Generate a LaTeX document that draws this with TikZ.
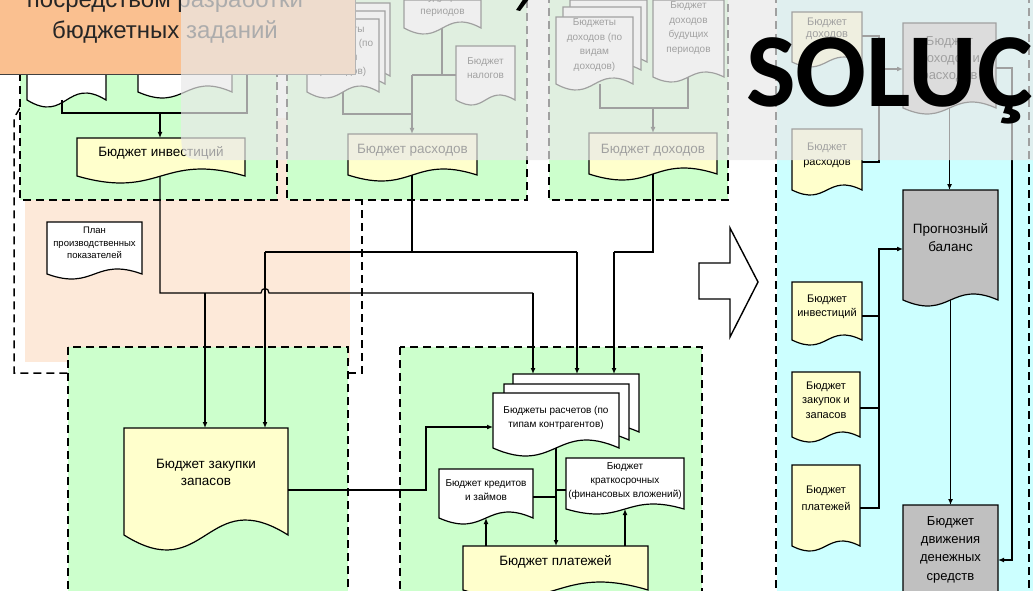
\documentclass[tikz,border=0pt]{standalone}
\usepackage{fontspec}
\setmainfont{Liberation Sans}
\newfontfamily\solfont{Carlito}
\usetikzlibrary{arrows.meta}

\definecolor{pgreen}{HTML}{CCFFCC}
\definecolor{pyellow}{HTML}{FFFFCC}
\definecolor{ppeach}{HTML}{FDE9D9}
\definecolor{pcyan}{HTML}{CCFFFF}
\definecolor{pgray}{HTML}{C0C0C0}
\definecolor{porange}{HTML}{FAC090}
\definecolor{povl}{RGB}{233,233,233}

\tikzset{
  docline/.style={draw=black, line width=1.2pt},
  conn/.style={draw=black, line width=1.2pt},
  arr/.style={conn, -{Latex[length=6pt,width=5pt]}},
  panel/.style={draw=black, line width=1.5pt, dash pattern=on 8pt off 5pt},
}

\newcommand{\docfnt}{\fontsize{13.5}{17}\selectfont}
\newcommand{\DocShape}[9]{%
  \draw[docline, fill=#7] (#2,#3) -- (#4,#3) -- (#4,#5) .. controls ({(#2+#4)/2},{#5-3.46*#6}) and ({(#2+#4)/2},{#5+3.46*#6}) .. (#2,#5) -- cycle;
  \node[inner sep=0pt, outer sep=0pt, minimum width={(#4-#2)*1pt}, minimum height={(#5-#3)*1pt}] (#1) at ({(#2+#4)/2},{(#3+#5)/2}) {};
  \node[align=center, inner sep=0pt, font=\docfnt] (#1-t) at ({(#2+#4)/2},#8) {#9};
}

\begin{document}
\begin{tikzpicture}[x=1pt,y=-1pt]
\useasboundingbox (0,0) rectangle (1033,591);
\clip (0,0) rectangle (1033,591);
\fill[white] (0,0) rectangle (1033,591);

% peach area and outer boundary
\fill[ppeach] (25,118) rectangle (350,362);
\draw[panel] (20,108) -- (14,118) -- (14,373) -- (68,373);
\draw[panel] (348,373) -- (362,373) -- (362,200);

% panels
\draw[panel, fill=pgreen] (20,-5) rectangle (277,200);
\draw[panel, fill=pgreen] (287,-5) rectangle (527,200);
\draw[panel, fill=pgreen] (549,-5) rectangle (728,200);
\draw[panel, fill=pgreen] (68,347) rectangle (348,600);
\draw[panel, fill=pgreen] (400,347) rectangle (702,600);
\fill[pcyan] (777,-5) rectangle (1040,600);
\draw[panel] (776,-5) -- (776,600);
\draw[panel] (1029,-5) -- (1029,600);

% ---- top-left panel
\renewcommand{\docfnt}{\fontsize{10}{14}\selectfont}
\DocShape{docA}{27}{2}{106}{100}{7}{white}{60}{}
\DocShape{docB}{138}{2}{232}{92}{6}{white}{55}{}
\renewcommand{\docfnt}{\fontsize{13.5}{17}\selectfont}
\DocShape{inv}{77}{138}{245}{176}{7}{pyellow}{153}{Бюджет инвестиций}

% ---- top-middle panel
\renewcommand{\docfnt}{\fontsize{10}{14}\selectfont}
\DocShape{srB}{319}{3}{390}{76}{6}{white}{40}{}
\DocShape{srM}{313}{11}{385}{84}{6}{white}{45}{}
\DocShape{srF}{307}{19}{379}{92}{6}{white}{51}{Бюджеты\\расходов (по\\видам\\расходов)}
\DocShape{bp}{404}{0}{481}{28}{6}{white}{-9}{Бюджет\\расходов\\будущих\\периодов}
\DocShape{nal}{456}{46}{515}{100}{5}{white}{68.5}{Бюджет\\налогов}
\renewcommand{\docfnt}{\fontsize{13.5}{17}\selectfont}
\DocShape{ras}{348}{134}{477}{175}{6}{pyellow}{150}{Бюджет расходов}

% ---- top-right panel
\renewcommand{\docfnt}{\fontsize{10}{14.5}\selectfont}
\DocShape{sdB}{570}{0}{647}{62}{6}{white}{30}{}
\DocShape{sdM}{563}{7}{641}{70}{6}{white}{35}{}
\DocShape{sdF}{556}{17}{633}{84}{6}{white}{45}{Бюджеты\\доходов (по\\видам\\доходов)}
\DocShape{bud}{653}{0}{724}{77}{5}{white}{28}{Бюджет\\доходов\\будущих\\периодов}
\renewcommand{\docfnt}{\fontsize{13.5}{17}\selectfont}
\DocShape{doh}{589}{133}{717}{174}{6}{pyellow}{150}{Бюджет доходов}

% ---- peach area
\renewcommand{\docfnt}{\fontsize{9.5}{12.5}\selectfont}
\DocShape{plan}{47}{222}{142}{274}{5}{white}{243}{План\\производственных\\показателей}

% ---- bottom-left panel
\renewcommand{\docfnt}{\fontsize{13.5}{17}\selectfont}
\DocShape{zak}{124}{428}{288}{535}{15}{pyellow}{472}{Бюджет закупки\\запасов}

% ---- bottom-middle panel
\renewcommand{\docfnt}{\fontsize{10}{13.5}\selectfont}
\DocShape{rasB}{513}{374}{639}{432}{8}{white}{400}{}
\DocShape{rasM}{504}{384}{629}{440}{8}{white}{410}{}
\DocShape{rasF}{493}{393}{619}{448}{8}{white}{418}{Бюджеты расчетов (по\\типам контрагентов)}
\renewcommand{\docfnt}{\fontsize{10}{14}\selectfont}
\DocShape{kred}{439}{469}{533}{518}{6}{white}{490}{Бюджет кредитов\\и займов}
\DocShape{fin}{566}{458}{684}{509}{5}{white}{481}{Бюджет\\краткосрочных\\(финансовых вложений)}
\renewcommand{\docfnt}{\fontsize{13.5}{17}\selectfont}
\DocShape{plat}{463}{546}{648}{590}{8}{pyellow}{562}{Бюджет платежей}

% ---- right panel
\renewcommand{\docfnt}{\fontsize{11}{12.5}\selectfont}
\DocShape{rdoh}{792}{12}{862}{62}{5}{pyellow}{29}{Бюджет\\доходов}
\renewcommand{\docfnt}{\fontsize{11}{15}\selectfont}
\DocShape{rras}{792}{129}{862}{190}{5}{pyellow}{155}{Бюджет\\расходов}
\renewcommand{\docfnt}{\fontsize{11}{14}\selectfont}
\DocShape{rinv}{792}{282}{862}{340}{5}{pyellow}{307}{Бюджет\\инвестиций}
\renewcommand{\docfnt}{\fontsize{11}{14.5}\selectfont}
\DocShape{rzak}{792}{372}{860}{437}{5}{pyellow}{400}{Бюджет\\закупок и\\запасов}
\renewcommand{\docfnt}{\fontsize{11}{17}\selectfont}
\DocShape{rpl}{792}{465}{860}{546}{5}{pyellow}{498}{Бюджет\\платежей}
\renewcommand{\docfnt}{\fontsize{13}{17}\selectfont}
\DocShape{bdr}{903}{23}{996}{108}{6}{pgray}{59}{Бюджет\\доходов и\\расходов}
\renewcommand{\docfnt}{\fontsize{13.5}{18}\selectfont}
\DocShape{prog}{903}{190}{998}{300}{6}{pgray}{238}{Прогнозный\\баланс}
\renewcommand{\docfnt}{\fontsize{13}{18.3}\selectfont}
\DocShape{bdds}{903}{505}{998}{640}{6}{pgray}{549.5}{Бюджет\\движения\\денежных\\средств}

% ---- connectors: top-left
\coordinate (a1) at (62,113);
\coordinate (a2) at (247,113);
\coordinate (a3) at (160,113);
\coordinate (a4) at (247,70);
\draw[conn] (docA.south -| a1) -- (a1) -- (a2) -- (a4);
\draw[arr] (a3) -- (a3 |- inv.north);
\coordinate (b1) at (160,293);
\coordinate (b2) at (533,293);
\coordinate (b3) at (205,293);
\draw[conn] (inv.south -| b1) -- (b1) -- (261,293) .. controls (261,287) and (269,287) .. (269,293) -- (b2);
\draw[arr] (b2) -- (b2 |- rasB.north);
\draw[arr] (b3) -- (b3 |- zak.north);

% top-middle
\coordinate (c1) at (412,75);
\coordinate (c2) at (442,75);
\coordinate (c3) at (343,114);
\coordinate (c4) at (412,114);
\draw[conn] (bp.south -| c2) -- (c2);
\draw[conn] (nal.west |- c1) -- (c1);
\draw[conn] (srF.south -| c3) -- (c3) -- (c4);
\draw[arr] (c1) -- (c1 |- ras.north);
\coordinate (d1) at (412,252);
\coordinate (d2) at (265,252);
\coordinate (d3) at (577,252);
\draw[conn] (ras.south -| d1) -- (d1);
\draw[conn] (d2) -- (d3);
\draw[arr] (d2) -- (d2 |- zak.north);
\draw[arr] (d3) -- (d3 |- rasB.north);

% top-right
\coordinate (e1) at (600,108);
\coordinate (e2) at (688,108);
\coordinate (e3) at (653,108);
\draw[conn] (sdF.south -| e1) -- (e1) -- (e2) -- (bud.south -| e2);
\draw[arr] (e3) -- (e3 |- doh.north);
\coordinate (f1) at (653,252);
\coordinate (f2) at (614,252);
\draw[conn] (doh.south -| f1) -- (f1) -- (f2);
\draw[arr] (f2) -- (f2 |- rasB.north);

% bottom-middle
\coordinate (g1) at (426,490);
\coordinate (g2) at (426,427);
\draw[arr] (zak.east |- g1) -- (g1) -- (g2) -- (rasF.west |- g2);
\draw[arr] (rasF.south) -- (rasF.south |- plat.north);
\draw[arr] (plat.north -| kred.south) -- (kred.south);
\draw[arr] (plat.north -| fin.south) -- (fin.south);
\coordinate (h1) at (556,497);
\coordinate (h2) at (556,490);
\draw[conn] (kred.east |- h1) -- (h1);
\draw[conn] (h2) -- (fin.west |- h2);

% right panel
\coordinate (r1) at (879,36);
\coordinate (r2) at (879,162);
\coordinate (r3) at (879,69);
\draw[conn] (rdoh.east |- r1) -- (r1) -- (r2) -- (rras.east |- r2);
\draw[arr] (r3) -- (bdr.west |- r3);
\draw[arr] (bdr.south) -- (bdr.south |- prog.north);
\coordinate (r4) at (1012,68);
\coordinate (r5) at (1012,560);
\draw[arr] (bdr.east |- r4) -- (r4) -- (r5) -- (bdds.east |- r5);
\coordinate (r6) at (879,316);
\coordinate (r7) at (879,408);
\coordinate (r8) at (879,508);
\coordinate (r9) at (879,249);
\draw[conn] (rinv.east |- r6) -- (r6);
\draw[conn] (rzak.east |- r7) -- (r7);
\draw[arr] (rpl.east |- r8) -- (r8) -- (r9) -- (prog.west |- r9);
\draw[arr] (prog.south) -- (prog.south |- bdds.north);

% big outline arrow
\draw[fill=white, draw=black, line width=1.4pt, line join=miter]
  (699,263) -- (730,263) -- (730,228) -- (758,282) -- (730,337) -- (730,299) -- (699,299) -- cycle;

% orange title box
\draw[fill=porange, draw=black!75, line width=1pt] (-5,-5) rectangle (355,75);
\node[anchor=base, inner sep=0pt, font=\fontsize{24}{28}\selectfont, text=black!85] (ot1) at (165,8) {посредством разработки};
\node[anchor=base, inner sep=0pt, font=\fontsize{24}{28}\selectfont, text=black!85] (ot2) at (165,39) {бюджетных заданий};

% translucent overlay
\fill[povl, opacity=0.69] (181,-5) -- (181,122) .. controls (181,160) .. (215,160) -- (1040,160) -- (1040,-5) -- cycle;

% large title fragments
\node[anchor=base west, inner sep=0pt, font=\solfont\bfseries\fontsize{105}{110}\selectfont] (sol) at (746,107) {SOLUÇ};
\fill[black] (516,10) -- (520,11) -- (529,-1) -- (524,-2) -- cycle;
\end{tikzpicture}
\end{document}
